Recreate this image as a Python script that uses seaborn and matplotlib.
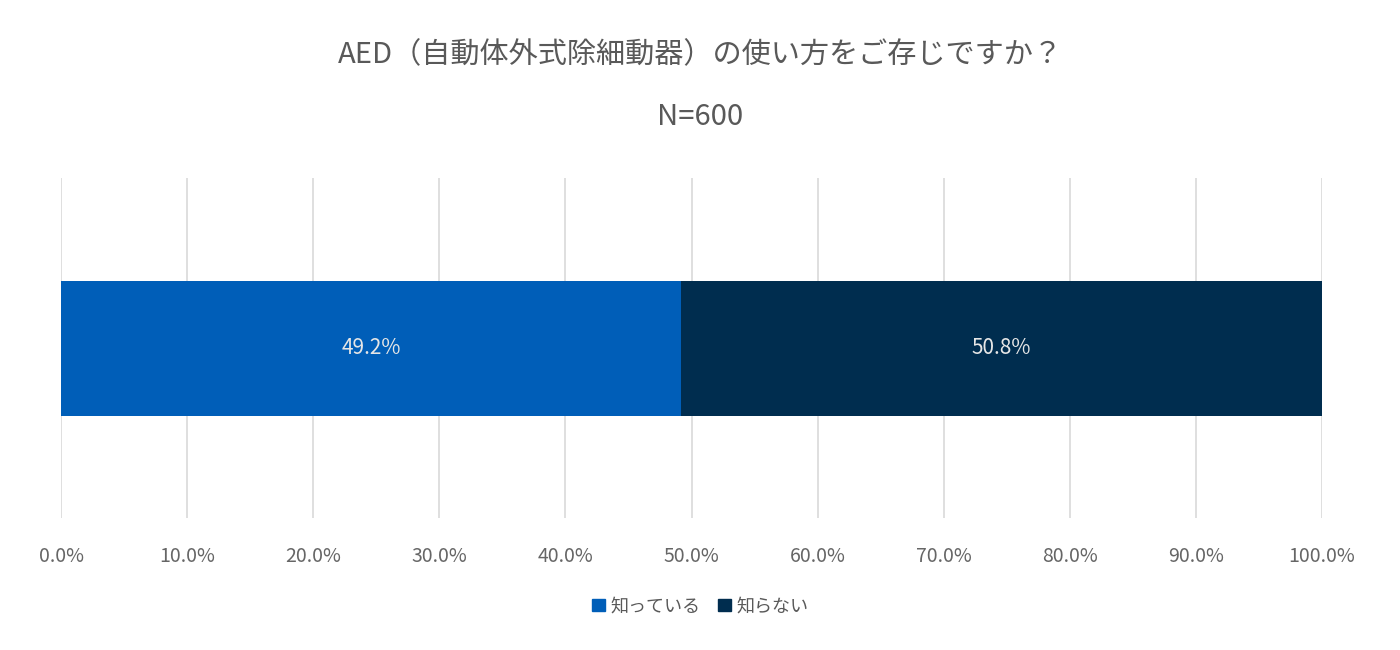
import matplotlib
matplotlib.use("Agg")
import matplotlib.pyplot as plt
import seaborn as sns
import pandas as pd
from matplotlib.patches import Patch

plt.rcParams["font.family"] = ["Noto Sans CJK JP", "DejaVu Sans"]

categories = ["AED"]
labels = ["知っている", "知らない"]
values = [49.2, 50.8]
colors = ["#005EB8", "#002D4F"]
xticks = [0, 10, 20, 30, 40, 50, 60, 70, 80, 90, 100]

fig = plt.figure(figsize=(14, 6.5), dpi=100)
ax = fig.add_axes([0.0436, 0.203, 0.9007, 0.523])

# stacked: draw cumulative totals, largest first
cum = [sum(values[:i + 1]) for i in range(len(values))]
for lab, c, col in reversed(list(zip(labels, cum, colors))):
    df = pd.DataFrame({"cat": categories, "val": [c]})
    sns.barplot(data=df, x="val", y="cat", orient="h", color=col,
                width=0.397, saturation=1, ax=ax, zorder=3)

left = 0
for v in values:
    ax.text(left + v / 2, 0, f"{v:.1f}%", ha="center", va="center",
            color="#E6E6E6", fontsize=15, zorder=4)
    left += v

ax.set_xlim(0, 100)
ax.set_ylim(0.5, -0.5)
ax.set_xticks(xticks)
ax.set_xticklabels([f"{t:.1f}%" for t in xticks], color="#666666", fontsize=14)
ax.set_yticks([])
ax.set_xlabel("")
ax.set_ylabel("")
ax.tick_params(axis="x", length=0, pad=20)
ax.grid(axis="x", color="#D9D9D9", linewidth=1.2, zorder=0)
for s in ax.spines.values():
    s.set_visible(False)

fig.text(0.5, 0.915, "AED（自動体外式除細動器）の使い方をご存じですか？",
         ha="center", va="center", fontsize=21, color="#595959")
fig.text(0.5, 0.82, "N=600", ha="center", va="center", fontsize=21, color="#595959")

handles = [Patch(color=c, label=l) for l, c in zip(labels, colors)]
fig.legend(handles=handles, loc="center", bbox_to_anchor=(0.5, 0.067), ncol=2,
           frameon=False, fontsize=13, handlelength=0.7, handleheight=0.7,
           handletextpad=0.3, columnspacing=1.0, labelcolor="#595959")

fig.savefig("out.png", dpi=100)
